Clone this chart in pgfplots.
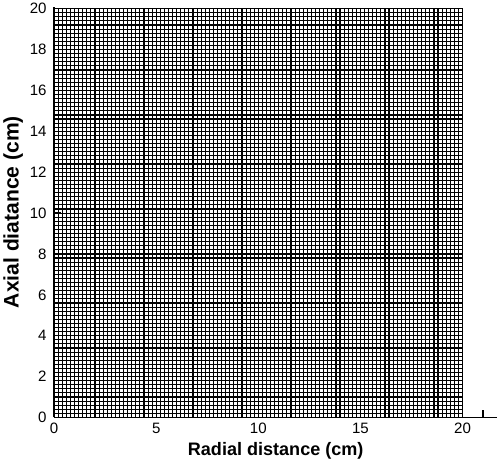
\documentclass[border=0pt]{standalone}
\usepackage{pgfplots}
\pgfplotsset{compat=1.18}
\usepackage{fontspec}
\setmainfont{Liberation Sans}
\begin{document}
\begin{tikzpicture}
\begin{axis}[
  scale only axis, width=440bp, height=408bp,
  xmin=0, xmax=21.7, ymin=0, ymax=20.1,
  axis x line=bottom, axis y line=left,
  axis line style={-, line width=1.5pt},
  xtick={0,5,10,15,20}, extra x ticks={21}, extra x tick labels={},
  ytick={0,2,4,6,8,10,12,14,16,18,20},
  tick align=inside, major tick length=7bp,
  tick style={line width=1.2pt, black},
  /pgf/number format/assume math mode=true,
  tick label style={font=\fontsize{15}{17}\selectfont},
  xticklabel style={yshift=-2bp},
  yticklabel style={xshift=-4bp},
  xlabel={\textbf{Radial distance (cm)}},
  ylabel={\textbf{Axial diatance (cm)}},
  xlabel style={font=\fontsize{18}{20}\selectfont, yshift=-2bp},
  ylabel style={font=\fontsize{21}{23}\selectfont, yshift=0bp},
  clip=false,
]
\addplot[black, line width=1.1pt, mark=none] coordinates {
(0,0)(0,20)(0.2,20)(0.2,0)(0.4,0)(0.4,20)(0.6,20)(0.6,0)(0.8,0)(0.8,20)(1,20)(1,0)(1.2,0)(1.2,20)(1.4,20)(1.4,0)(1.6,0)(1.6,20)(1.8,20)(1.8,0)
(2,0)(2,20)(2.2,20)(2.2,0)(2.4,0)(2.4,20)(2.6,20)(2.6,0)(2.8,0)(2.8,20)(3,20)(3,0)(3.2,0)(3.2,20)(3.4,20)(3.4,0)(3.6,0)(3.6,20)(3.8,20)(3.8,0)
(4,0)(4,20)(4.2,20)(4.2,0)(4.4,0)(4.4,20)(4.6,20)(4.6,0)(4.8,0)(4.8,20)(5,20)(5,0)(5.2,0)(5.2,20)(5.4,20)(5.4,0)(5.6,0)(5.6,20)(5.8,20)(5.8,0)
(6,0)(6,20)(6.2,20)(6.2,0)(6.4,0)(6.4,20)(6.6,20)(6.6,0)(6.8,0)(6.8,20)(7,20)(7,0)(7.2,0)(7.2,20)(7.4,20)(7.4,0)(7.6,0)(7.6,20)(7.8,20)(7.8,0)
(8,0)(8,20)(8.2,20)(8.2,0)(8.4,0)(8.4,20)(8.6,20)(8.6,0)(8.8,0)(8.8,20)(9,20)(9,0)(9.2,0)(9.2,20)(9.4,20)(9.4,0)(9.6,0)(9.6,20)(9.8,20)(9.8,0)
(10,0)(10,20)(10.2,20)(10.2,0)(10.4,0)(10.4,20)(10.6,20)(10.6,0)(10.8,0)(10.8,20)(11,20)(11,0)(11.2,0)(11.2,20)(11.4,20)(11.4,0)(11.6,0)(11.6,20)(11.8,20)(11.8,0)
(12,0)(12,20)(12.2,20)(12.2,0)(12.4,0)(12.4,20)(12.6,20)(12.6,0)(12.8,0)(12.8,20)(13,20)(13,0)(13.2,0)(13.2,20)(13.4,20)(13.4,0)(13.6,0)(13.6,20)(13.8,20)(13.8,0)
(14,0)(14,20)(14.2,20)(14.2,0)(14.4,0)(14.4,20)(14.6,20)(14.6,0)(14.8,0)(14.8,20)(15,20)(15,0)(15.2,0)(15.2,20)(15.4,20)(15.4,0)(15.6,0)(15.6,20)(15.8,20)(15.8,0)
(16,0)(16,20)(16.2,20)(16.2,0)(16.4,0)(16.4,20)(16.6,20)(16.6,0)(16.8,0)(16.8,20)(17,20)(17,0)(17.2,0)(17.2,20)(17.4,20)(17.4,0)(17.6,0)(17.6,20)(17.8,20)(17.8,0)
(18,0)(18,20)(18.2,20)(18.2,0)(18.4,0)(18.4,20)(18.6,20)(18.6,0)(18.8,0)(18.8,20)(19,20)(19,0)(19.2,0)(19.2,20)(19.4,20)(19.4,0)(19.6,0)(19.6,20)(19.8,20)(19.8,0)
(20,0)(20,20)
};
\addplot[black, line width=1.1pt, mark=none] coordinates {
(0,0)(20,0)(20,0.2)(0,0.2)(0,0.4)(20,0.4)(20,0.6)(0,0.6)(0,0.8)(20,0.8)(20,1)(0,1)(0,1.2)(20,1.2)(20,1.4)(0,1.4)(0,1.6)(20,1.6)(20,1.8)(0,1.8)
(0,2)(20,2)(20,2.2)(0,2.2)(0,2.4)(20,2.4)(20,2.6)(0,2.6)(0,2.8)(20,2.8)(20,3)(0,3)(0,3.2)(20,3.2)(20,3.4)(0,3.4)(0,3.6)(20,3.6)(20,3.8)(0,3.8)
(0,4)(20,4)(20,4.2)(0,4.2)(0,4.4)(20,4.4)(20,4.6)(0,4.6)(0,4.8)(20,4.8)(20,5)(0,5)(0,5.2)(20,5.2)(20,5.4)(0,5.4)(0,5.6)(20,5.6)(20,5.8)(0,5.8)
(0,6)(20,6)(20,6.2)(0,6.2)(0,6.4)(20,6.4)(20,6.6)(0,6.6)(0,6.8)(20,6.8)(20,7)(0,7)(0,7.2)(20,7.2)(20,7.4)(0,7.4)(0,7.6)(20,7.6)(20,7.8)(0,7.8)
(0,8)(20,8)(20,8.2)(0,8.2)(0,8.4)(20,8.4)(20,8.6)(0,8.6)(0,8.8)(20,8.8)(20,9)(0,9)(0,9.2)(20,9.2)(20,9.4)(0,9.4)(0,9.6)(20,9.6)(20,9.8)(0,9.8)
(0,10)(20,10)(20,10.2)(0,10.2)(0,10.4)(20,10.4)(20,10.6)(0,10.6)(0,10.8)(20,10.8)(20,11)(0,11)(0,11.2)(20,11.2)(20,11.4)(0,11.4)(0,11.6)(20,11.6)(20,11.8)(0,11.8)
(0,12)(20,12)(20,12.2)(0,12.2)(0,12.4)(20,12.4)(20,12.6)(0,12.6)(0,12.8)(20,12.8)(20,13)(0,13)(0,13.2)(20,13.2)(20,13.4)(0,13.4)(0,13.6)(20,13.6)(20,13.8)(0,13.8)
(0,14)(20,14)(20,14.2)(0,14.2)(0,14.4)(20,14.4)(20,14.6)(0,14.6)(0,14.8)(20,14.8)(20,15)(0,15)(0,15.2)(20,15.2)(20,15.4)(0,15.4)(0,15.6)(20,15.6)(20,15.8)(0,15.8)
(0,16)(20,16)(20,16.2)(0,16.2)(0,16.4)(20,16.4)(20,16.6)(0,16.6)(0,16.8)(20,16.8)(20,17)(0,17)(0,17.2)(20,17.2)(20,17.4)(0,17.4)(0,17.6)(20,17.6)(20,17.8)(0,17.8)
(0,18)(20,18)(20,18.2)(0,18.2)(0,18.4)(20,18.4)(20,18.6)(0,18.6)(0,18.8)(20,18.8)(20,19)(0,19)(0,19.2)(20,19.2)(20,19.4)(0,19.4)(0,19.6)(20,19.6)(20,19.8)(0,19.8)
(0,20)(20,20)
};
\end{axis}
\end{tikzpicture}
\end{document}
